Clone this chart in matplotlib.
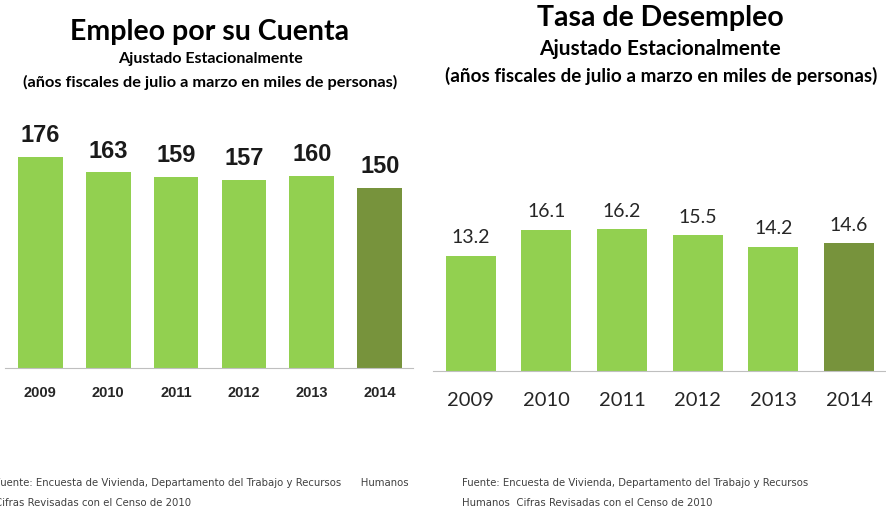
import matplotlib
matplotlib.use("Agg")
from matplotlib import pyplot as plt

# Datos
anios = ["2009", "2010", "2011", "2012", "2013", "2014"]
empleo_cuenta = [176, 163, 159, 157, 160, 150]
tasa_desempleo = [13.2, 16.1, 16.2, 15.5, 14.2, 14.6]

verde = "#92D050"
verde_oscuro = "#77933C"
colores = [verde] * 5 + [verde_oscuro]


def main():
    fig = plt.figure(figsize=(8.86, 5.13), dpi=100)

    # Gráfico izquierdo: Empleo por su Cuenta
    ax1 = fig.add_axes([0.0056, 0.2827, 0.4605, 0.468])
    x = range(len(anios))
    barras = ax1.bar(x, empleo_cuenta, width=0.66, color=colores)
    ax1.set_xlim(-0.52, 5.49)
    ax1.set_ylim(0, 200)
    for b, v in zip(barras, empleo_cuenta):
        ax1.annotate(str(v), (b.get_x() + b.get_width() / 2, b.get_height()),
                     xytext=(0, 7), textcoords="offset points", ha="center",
                     va="bottom", fontsize=17, fontweight="bold",
                     family="Liberation Sans", color="#1a1a1a")
    ax1.set_xticks(list(x))
    ax1.set_xticklabels(anios, fontsize=10.5, fontweight="bold",
                        family="Liberation Sans", color="#262626")
    ax1.tick_params(axis="x", length=0, pad=13)
    ax1.set_yticks([])
    for s in ["top", "right", "left"]:
        ax1.spines[s].set_visible(False)
    ax1.spines["bottom"].set_color("#bfbfbf")

    # Gráfico derecho: Tasa de Desempleo
    ax2 = fig.add_axes([0.4887, 0.2768, 0.5113, 0.341])
    barras = ax2.bar(x, tasa_desempleo, width=0.66, color=colores)
    ax2.set_xlim(-0.50, 5.49)
    ax2.set_ylim(0, 20)
    for b, v in zip(barras, tasa_desempleo):
        ax2.annotate(f"{v:.1f}", (b.get_x() + b.get_width() / 2, b.get_height()),
                     xytext=(0, 7), textcoords="offset points", ha="center",
                     va="bottom", fontsize=14, family="Lato", color="#262626")
    ax2.set_xticks(list(x))
    ax2.set_xticklabels(anios, fontsize=14.5, family="Lato", color="#262626")
    ax2.tick_params(axis="x", length=0, pad=15)
    ax2.set_yticks([])
    for s in ["top", "right", "left"]:
        ax2.spines[s].set_visible(False)
    ax2.spines["bottom"].set_color("#bfbfbf")

    # Títulos
    fig.text(210 / 886, 1 - 32 / 513, "Empleo por su Cuenta", ha="center",
             va="center", fontsize=20.5, fontweight="bold", family="Lato")
    fig.text(210 / 886, 1 - 59 / 513, "Ajustado Estacionalmente", ha="center",
             va="center", fontsize=11.5, fontweight="bold", family="Lato")
    fig.text(210 / 886, 1 - 82 / 513,
             "(años fiscales de julio a marzo en miles de personas)",
             ha="center", va="center", fontsize=11.8, fontweight="bold",
             family="Lato")

    fig.text(660 / 886, 1 - 18 / 513, "Tasa de Desempleo", ha="center",
             va="center", fontsize=20.5, fontweight="bold", family="Lato")
    fig.text(660 / 886, 1 - 49 / 513, "Ajustado Estacionalmente", ha="center",
             va="center", fontsize=15, fontweight="bold", family="Lato")
    fig.text(661 / 886, 1 - 76 / 513,
             "(años fiscales de julio a marzo en miles de personas)",
             ha="center", va="center", fontsize=13.6, fontweight="bold",
             family="Lato")

    # Fuentes
    nota = dict(fontsize=7.3, family="Liberation Sans Narrow", color="#404040",
                va="center")
    fig.text(-5 / 886, 1 - 483 / 513,
             "Fuente: Encuesta de Vivienda, Departamento del Trabajo y Recursos      Humanos",
             ha="left", **nota)
    fig.text(-5 / 886, 1 - 503 / 513, "Cifras Revisadas con el Censo de 2010",
             ha="left", **nota)
    fig.text(462 / 886, 1 - 483 / 513,
             "Fuente: Encuesta de Vivienda, Departamento del Trabajo y Recursos",
             ha="left", **nota)
    fig.text(462 / 886, 1 - 503 / 513,
             "Humanos  Cifras Revisadas con el Censo de 2010", ha="left", **nota)

    fig.savefig("out.png", dpi=100)


if __name__ == "__main__":
    main()
